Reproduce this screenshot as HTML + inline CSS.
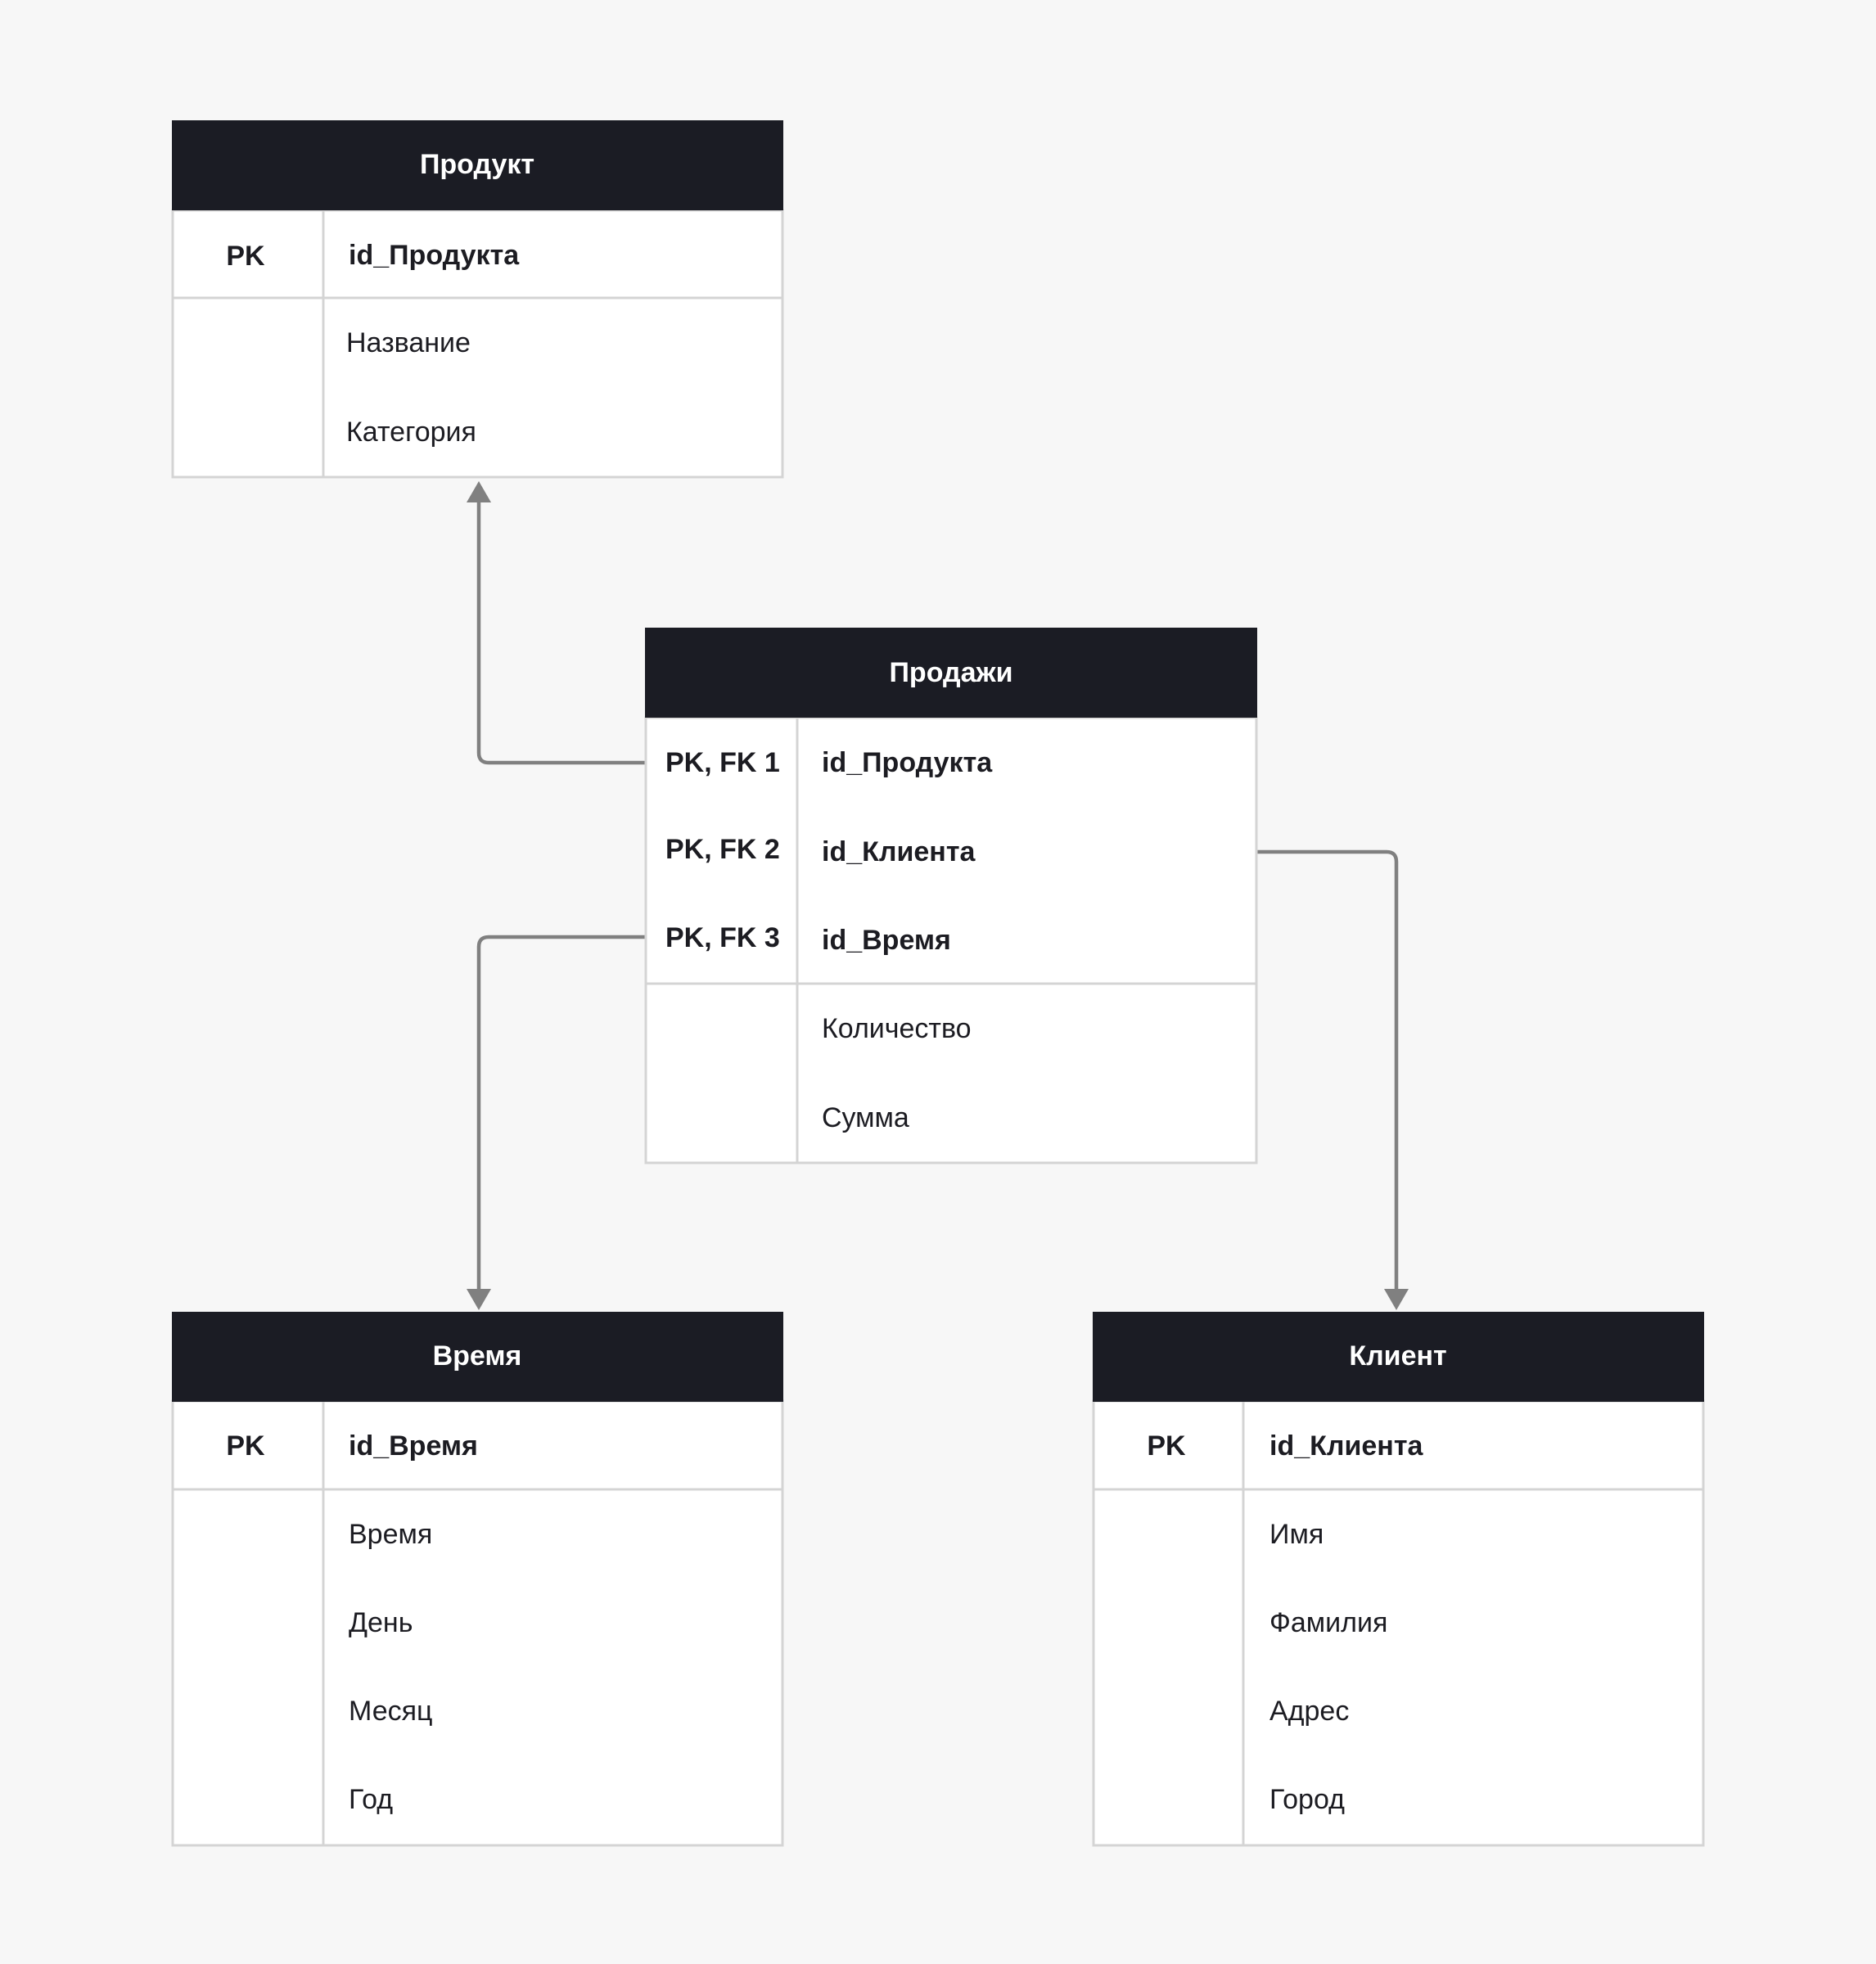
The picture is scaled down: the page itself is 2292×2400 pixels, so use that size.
<!DOCTYPE html>
<html><head><meta charset="utf-8"><style>
html,body{margin:0;padding:0;background:#f7f7f7;}
svg{display:block}
text{font-family:"Liberation Sans","DejaVu Sans",sans-serif;font-size:34px;fill:#1c1c22;dominant-baseline:central}
.h{fill:#fff;font-weight:bold;text-anchor:middle}
.b{font-weight:bold}
</style></head><body>
<svg width="2292" height="2400" viewBox="0 0 2292 2400" xmlns="http://www.w3.org/2000/svg">
<rect width="2292" height="2400" fill="#f7f7f7"/>
<g fill="none" stroke="#808080" stroke-width="4.5" stroke-linejoin="round">
<path d="M788 932 H597 Q585 932 585 920 V610"/>
<path d="M788 1145 H597 Q585 1145 585 1157 V1575"/>
<path d="M1536 1041 H1694 Q1706 1041 1706 1053 V1575"/>
</g>
<g fill="#808080">
<polygon points="585,588 570,614 600,614"/>
<polygon points="585,1601 570,1575 600,1575"/>
<polygon points="1706,1601 1691,1575 1721,1575"/>
</g>
<g stroke="#d4d4d4" stroke-width="3">
<!-- Product -->
<rect x="211" y="257" width="745" height="326" fill="#fff"/>
<line x1="211" y1="364" x2="956" y2="364"/>
<line x1="395" y1="257" x2="395" y2="583"/>
<!-- Sales -->
<rect x="789" y="877" width="746" height="544" fill="#fff"/>
<line x1="789" y1="1202" x2="1535" y2="1202"/>
<line x1="974" y1="877" x2="974" y2="1421"/>
<!-- Time -->
<rect x="211" y="1712" width="745" height="543" fill="#fff"/>
<line x1="211" y1="1820" x2="956" y2="1820"/>
<line x1="395" y1="1712" x2="395" y2="2255"/>
<!-- Client -->
<rect x="1336" y="1712" width="745" height="543" fill="#fff"/>
<line x1="1336" y1="1820" x2="2081" y2="1820"/>
<line x1="1519" y1="1712" x2="1519" y2="2255"/>
</g>
<g fill="#1b1c24">
<rect x="210" y="147" width="747" height="110"/>
<rect x="788" y="767" width="748" height="110"/>
<rect x="210" y="1603" width="747" height="110"/>
<rect x="1335" y="1603" width="747" height="110"/>
</g>
<text class="h" x="583" y="201">Продукт</text>
<text class="h" x="1162" y="822">Продажи</text>
<text class="h" x="583" y="1657">Время</text>
<text class="h" x="1708" y="1657">Клиент</text>

<text class="b" x="300" y="313" text-anchor="middle">PK</text>
<text class="b" x="426" y="312">id_Продукта</text>
<text x="423" y="419">Название</text>
<text x="423" y="528">Категория</text>

<text class="b" x="813" y="932">PK, FK 1</text>
<text class="b" x="813" y="1038">PK, FK 2</text>
<text class="b" x="813" y="1146">PK, FK 3</text>
<text class="b" x="1004" y="932">id_Продукта</text>
<text class="b" x="1004" y="1041">id_Клиента</text>
<text class="b" x="1004" y="1149">id_Время</text>
<text x="1004" y="1257">Количество</text>
<text x="1004" y="1366">Сумма</text>

<text class="b" x="300" y="1767" text-anchor="middle">PK</text>
<text class="b" x="426" y="1767">id_Время</text>
<text x="426" y="1875">Время</text>
<text x="426" y="1983">День</text>
<text x="426" y="2091">Месяц</text>
<text x="426" y="2199">Год</text>

<text class="b" x="1425" y="1767" text-anchor="middle">PK</text>
<text class="b" x="1551" y="1767">id_Клиента</text>
<text x="1551" y="1875">Имя</text>
<text x="1551" y="1983">Фамилия</text>
<text x="1551" y="2091">Адрес</text>
<text x="1551" y="2199">Город</text>
</svg>
</body></html>
